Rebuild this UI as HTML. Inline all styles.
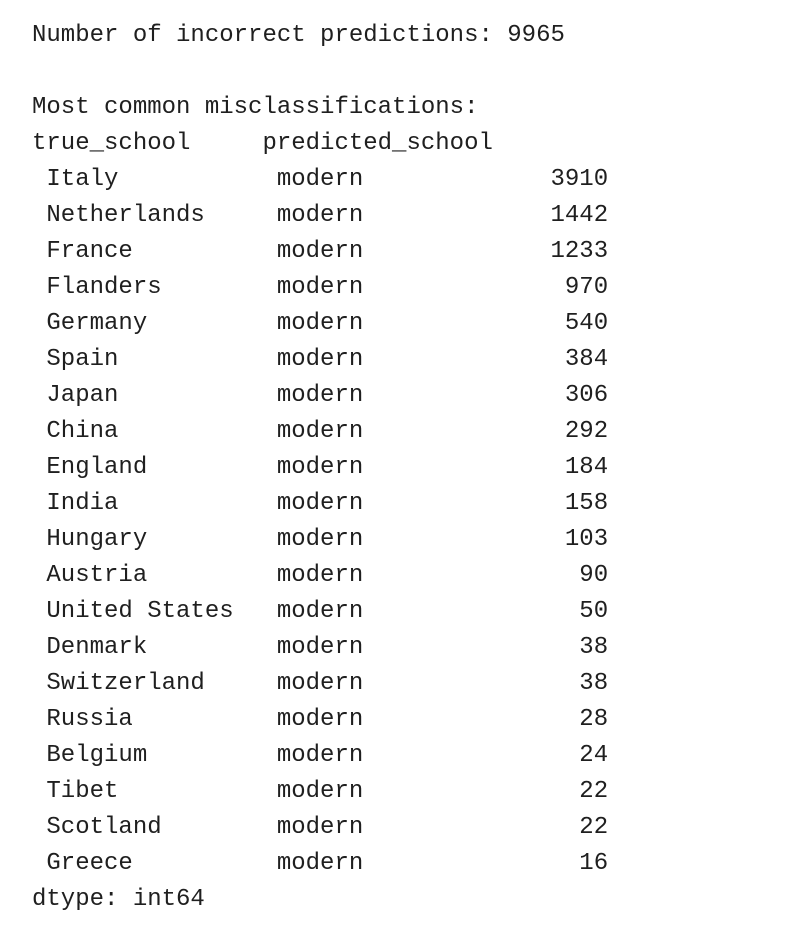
<!DOCTYPE html>
<html>
<head>
<meta charset="utf-8">
<style>
  html,body{margin:0;padding:0;background:#ffffff;}
  body{width:788px;height:952px;overflow:hidden;position:relative;}
  pre{position:absolute;left:32px;top:18px;margin:0;
      font-family:"Liberation Mono","DejaVu Sans Mono",monospace;
      font-size:24px;line-height:36px;color:#1f1f1f;}
  .ln{display:block;height:36px;white-space:pre;}
</style>
</head>
<body>
<pre><span class="ln">Number of incorrect predictions: 9965</span><span class="ln"> </span><span class="ln">Most common misclassifications:</span><span class="ln">true_school     predicted_school</span><span class="ln"> Italy           modern             3910</span><span class="ln"> Netherlands     modern             1442</span><span class="ln"> France          modern             1233</span><span class="ln"> Flanders        modern              970</span><span class="ln"> Germany         modern              540</span><span class="ln"> Spain           modern              384</span><span class="ln"> Japan           modern              306</span><span class="ln"> China           modern              292</span><span class="ln"> England         modern              184</span><span class="ln"> India           modern              158</span><span class="ln"> Hungary         modern              103</span><span class="ln"> Austria         modern               90</span><span class="ln"> United States   modern               50</span><span class="ln"> Denmark         modern               38</span><span class="ln"> Switzerland     modern               38</span><span class="ln"> Russia          modern               28</span><span class="ln"> Belgium         modern               24</span><span class="ln"> Tibet           modern               22</span><span class="ln"> Scotland        modern               22</span><span class="ln"> Greece          modern               16</span><span class="ln">dtype: int64</span></pre>
</body>
</html>
